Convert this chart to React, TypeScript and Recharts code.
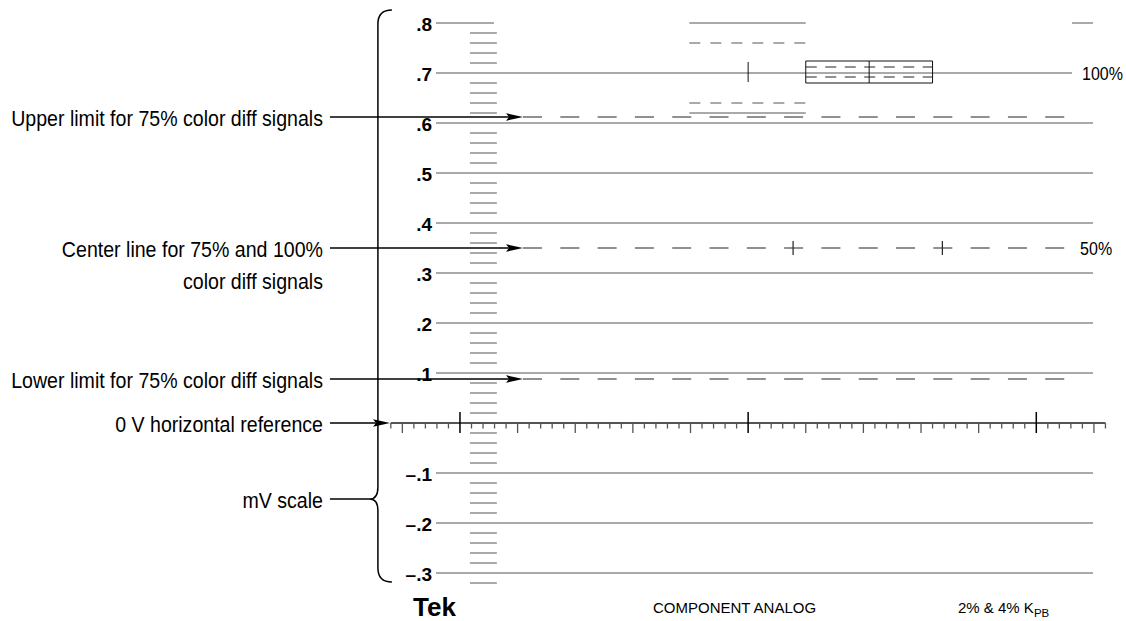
import { ComposedChart, Line, XAxis, YAxis, ReferenceLine, Customized } from 'recharts';

// horizontal unit = one minor division of the 0 V reference line
const X_MIN = -2.08;
const X_MAX = 54.92;
const Y_MIN = -0.34;
const Y_MAX = 0.84;

const yLabels = [0.8, 0.7, 0.6, 0.5, 0.4, 0.3, 0.2, 0.1, -0.1, -0.2, -0.3];
const fullGridLevels = [0.6, 0.5, 0.4, 0.3, 0.2, 0.1, -0.1, -0.2, -0.3];
const line70End = 53.1;
const line80Left = [X_MIN, 2.95];
const line80Right = [53.1, X_MAX];

// 100% vector targets at the top
const targetX = [19.9, 30];
const targetSolid = [0.8, 0.62];
const targetDashed = [0.76, 0.64];
const boxX = [30, 41];
const boxY = [0.68, 0.724];
const boxDashed = [0.712, 0.692];
const boxDivider = 35.5;
const tick70 = { x: 25, y: [0.682, 0.722] };

// 75% color difference limits
const limitLevels = [0.612, 0.35, 0.088];
const limitX = [5.47, 52.5];
const centerCrosses = [28.9, 41.85];

// 0 V reference graticule
const axisRange = [-6, 56];
const axisTicks = Array.from({ length: 63 }, (_, i) => i - 6);
const majorTicks = [0, 25, 50];

// vertical mV scale
const scaleX = [0.87, 3.2];
const scaleTicks = Array.from({ length: 56 }, (_, i) => Math.round((-0.32 + i * 0.02) * 100) / 100).filter(
  (v) => Math.round(v * 100) % 10 !== 0
);

// annotations
const annStart = -11.28;
const arrowTip = 5.47;
const annotations = [
  { y: 0.612, lines: ['Upper limit for 75% color diff signals'], tip: arrowTip, head: true },
  { y: 0.35, lines: ['Center line for 75% and 100%', 'color diff signals'], tip: arrowTip, head: true },
  { y: 0.088, lines: ['Lower limit for 75% color diff signals'], tip: arrowTip, head: true },
  { y: 0, lines: ['0 V horizontal reference'], tip: -6.07, head: true },
  { y: -0.152, lines: ['mV scale'], tip: -7.81, head: false },
];
const bracketX = -7.12;
const bracketY = [0.826, -0.318];
const braceTipY = -0.152;

const GRID = '#555';
const SANS = "'Liberation Sans', Arial, Helvetica, sans-serif";

// condensed look: regular sans squeezed horizontally
const NarrowText = ({ x, y, anchor, size, children }: any) => (
  <text
    transform={`translate(${x},${y}) scale(0.89,1)`}
    textAnchor={anchor}
    dominantBaseline="central"
    fontFamily={SANS}
    fontSize={size}
    fill="#000"
  >
    {children}
  </text>
);

const YTick = (props: any) => {
  const { x, y, payload } = props;
  const v = payload.value;
  const s = (v < 0 ? '–' : '') + '.' + Math.round(Math.abs(v) * 10);
  return (
    <text x={x} y={y + 1} textAnchor="end" dominantBaseline="central" fontFamily={SANS} fontWeight="bold" fontSize={19} fill="#000">
      {s}
    </text>
  );
};

const annotationShape = (lines: string[], head: boolean) => (p: any) => {
  const { x1, y1, x2, y2 } = p;
  return (
    <g>
      <line x1={x1} y1={y1} x2={head ? x2 - 12 : x2} y2={y2} stroke="#000" strokeWidth={1.5} />
      {head && (
        <polygon points={`${x2},${y2} ${x2 - 17},${y2 - 3.8} ${x2 - 14},${y2} ${x2 - 17},${y2 + 3.8}`} fill="#000" />
      )}
      {lines.map((t, i) => (
        <NarrowText key={i} x={x1 - 7} y={y1 + i * 32 + 1} anchor="end" size={22}>
          {t}
        </NarrowText>
      ))}
    </g>
  );
};

const labelledLine = (label: string, gap: number) => (p: any) => {
  const { x1, y1, x2, y2 } = p;
  return (
    <g>
      <line x1={x1} y1={y1} x2={x2} y2={y2} stroke={GRID} strokeWidth={1} />
      <NarrowText x={x2 + gap} y={y2 + 1} anchor="start" size={18}>
        {label}
      </NarrowText>
    </g>
  );
};

const bracketShape = (p: any) => {
  const { x1, y1, y2 } = p;
  const yMid = y1 + ((y2 - y1) * (bracketY[0] - braceTipY)) / (bracketY[0] - bracketY[1]);
  const r = 14;
  const d = `M ${x1 + r} ${y1} Q ${x1} ${y1} ${x1} ${y1 + r} L ${x1} ${yMid - 12} Q ${x1} ${yMid} ${x1 - 8} ${yMid} Q ${x1} ${yMid} ${x1} ${yMid + 12} L ${x1} ${y2 - r} Q ${x1} ${y2} ${x1 + r} ${y2}`;
  return <path d={d} fill="none" stroke="#000" strokeWidth={1.5} />;
};

const Footer = () => (
  <g>
    <text x={413} y={616} fontFamily={SANS} fontWeight="bold" fontSize={26} fill="#000">
      Tek
    </text>
    <text x={653} y={613} fontFamily={SANS} fontSize={15} fill="#000">
      COMPONENT ANALOG
    </text>
    <text x={958} y={613} fontFamily={SANS} fontSize={15} fill="#000">
      2% &amp; 4% K
      <tspan fontSize={11.5} dy={4}>PB</tspan>
    </text>
  </g>
);

const seg = (xa: number, ya: number, xb: number, yb: number) => [
  { x: xa, y: ya },
  { x: xb, y: yb },
];

export default function App() {
  return (
    <div style={{ position: 'absolute', left: 0, top: 0, background: '#fff' }}>
      <ComposedChart width={1126} height={621} margin={{ top: 3, right: 33, bottom: 28, left: 376 }}>
        <XAxis type="number" dataKey="x" domain={[X_MIN, X_MAX]} allowDataOverflow hide />
        <YAxis
          type="number"
          domain={[Y_MIN, Y_MAX]}
          allowDataOverflow
          ticks={yLabels}
          interval={0}
          width={60}
          axisLine={false}
          tickLine={false}
          tickSize={0}
          tickMargin={4}
          tick={<YTick />}
        />

        {/* horizontal graticule */}
        {fullGridLevels.map((v) => (
          <ReferenceLine key={`g${v}`} segment={seg(X_MIN, v, X_MAX, v)} stroke={GRID} strokeWidth={1} ifOverflow="visible" />
        ))}
        <ReferenceLine segment={seg(X_MIN, 0.7, line70End, 0.7)} ifOverflow="visible" shape={labelledLine('100%', 10)} />
        <ReferenceLine segment={seg(line80Left[0], 0.8, line80Left[1], 0.8)} stroke={GRID} ifOverflow="visible" />
        <ReferenceLine segment={seg(line80Right[0], 0.8, line80Right[1], 0.8)} stroke={GRID} ifOverflow="visible" />

        {/* vector targets */}
        {targetSolid.map((v) => (
          <ReferenceLine key={`ts${v}`} segment={seg(targetX[0], v, targetX[1], v)} stroke={GRID} ifOverflow="visible" />
        ))}
        {targetDashed.map((v) => (
          <ReferenceLine key={`td${v}`} segment={seg(targetX[0], v, targetX[1], v)} stroke={GRID} strokeDasharray="11 10" ifOverflow="visible" />
        ))}
        {boxY.map((v) => (
          <ReferenceLine key={`bh${v}`} segment={seg(boxX[0], v, boxX[1], v)} stroke="#111" ifOverflow="visible" />
        ))}
        {[boxX[0], boxDivider, boxX[1]].map((u) => (
          <ReferenceLine key={`bv${u}`} segment={seg(u, boxY[0], u, boxY[1])} stroke="#111" ifOverflow="visible" />
        ))}
        {boxDashed.map((v) => (
          <ReferenceLine key={`bd${v}`} segment={seg(boxX[0], v, boxX[1], v)} stroke="#222" strokeDasharray="11 8.5" ifOverflow="visible" />
        ))}
        <ReferenceLine segment={seg(tick70.x, tick70.y[0], tick70.x, tick70.y[1])} stroke="#111" ifOverflow="visible" />

        {/* 75% limits and center line */}
        {limitLevels.map((v) => (
          <Line
            key={`l${v}`}
            data={seg(limitX[0], v, limitX[1], v)}
            dataKey="y"
            stroke="#222"
            strokeWidth={1.2}
            strokeDasharray="19 18.3"
            dot={false}
            activeDot={false}
            isAnimationActive={false}
          />
        ))}
        {centerCrosses.map((u) => (
          <ReferenceLine key={`c${u}`} segment={seg(u, 0.336, u, 0.364)} stroke="#222" strokeWidth={1.2} ifOverflow="visible" />
        ))}
        <ReferenceLine
          segment={seg(limitX[1], 0.35, limitX[1], 0.35)}
          ifOverflow="visible"
          shape={(p: any) => (
            <NarrowText x={p.x2 + 15} y={p.y2 + 1} anchor="start" size={18}>
              50%
            </NarrowText>
          )}
        />

        {/* vertical mV scale */}
        {scaleTicks.map((v) => (
          <ReferenceLine key={`s${v}`} segment={seg(scaleX[0], v, scaleX[1], v)} stroke={GRID} ifOverflow="visible" />
        ))}

        {/* 0 V reference line with ticks */}
        <ReferenceLine segment={seg(axisRange[0], 0, axisRange[1], 0)} stroke={GRID} strokeWidth={2} ifOverflow="visible" />
        {axisTicks.map((u) =>
          majorTicks.includes(u) ? (
            <ReferenceLine key={`t${u}`} segment={seg(u, 0.022, u, -0.02)} stroke="#000" strokeWidth={1.5} ifOverflow="visible" />
          ) : (
            <ReferenceLine
              key={`t${u}`}
              segment={seg(u, 0, u, u % 5 === 0 ? -0.02 : -0.011)}
              stroke={GRID}
              strokeWidth={1.3}
              ifOverflow="visible"
            />
          )
        )}

        {/* bracket and annotations */}
        <ReferenceLine segment={seg(bracketX, bracketY[0], bracketX, bracketY[1])} ifOverflow="visible" shape={bracketShape} />
        {annotations.map((a) => (
          <ReferenceLine
            key={a.lines[0]}
            segment={seg(annStart, a.y, a.tip, a.y)}
            ifOverflow="visible"
            shape={annotationShape(a.lines, a.head)}
          />
        ))}

        <Customized component={Footer} />
      </ComposedChart>
    </div>
  );
}
